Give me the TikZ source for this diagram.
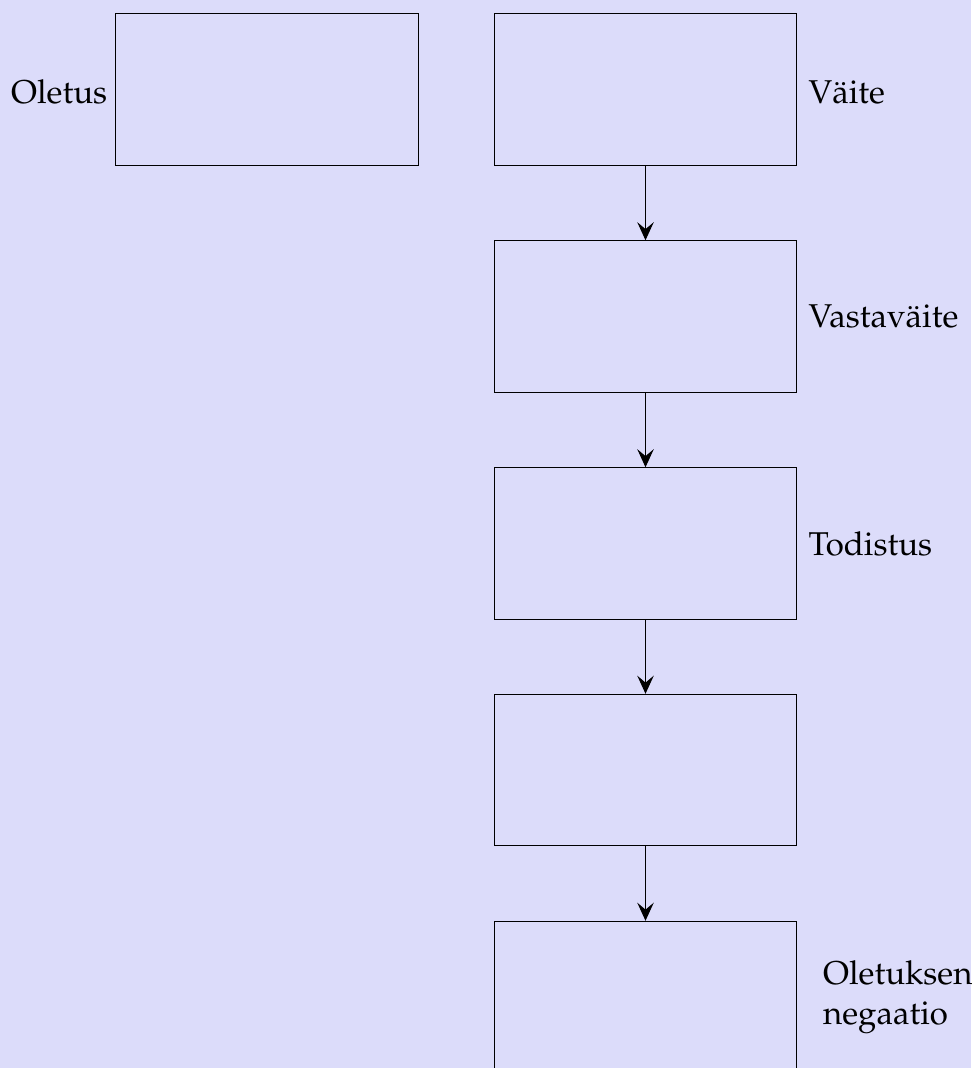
\documentclass[tikz,border=0pt]{standalone}
\usepackage[T1]{fontenc}
\usepackage{mathpazo}
\usetikzlibrary{arrows.meta}
\definecolor{bg}{RGB}{220,220,250}
\begin{document}
\begin{tikzpicture}[x=0.013210cm,y=-0.013210cm,
  stepbox/.style={draw=black, fill=bg, minimum width=4cm, minimum height=2cm, inner sep=0pt},
  lbl/.style={font=\fontsize{12.4}{14.9}\selectfont, inner sep=4pt},
  conn/.style={draw=black, -{Stealth[length=6.8pt,width=6.2pt,inset=2.6pt]}}]
\fill[bg] (0,0) rectangle (971,1068);
\useasboundingbox (0,0) rectangle (971,1068);
\node[stepbox] (o) at (267,89.5) {};
\node[stepbox] (b1) at (645.5,89.5) {};
\node[stepbox] (b2) at (645.5,316.5) {};
\node[stepbox] (b3) at (645.5,543.5) {};
\node[stepbox] (b4) at (645.5,770) {};
\node[stepbox] (b5) at (645.5,997) {};
\node[lbl, anchor=east, inner xsep=2.8pt, yshift=-1pt] (lo) at (o.west) {Oletus};
\node[lbl, anchor=west, yshift=-1pt] (l1) at (b1.east) {V\"aite};
\node[lbl, anchor=west] (l2) at (b2.east) {Vastav\"aite};
\node[lbl, anchor=west] (l3) at (b3.east) {Todistus};
\node[lbl, anchor=west, align=left, xshift=5.5pt] (l5) at (b5.east) {Oletuksen\\negaatio};
\draw[conn] (b1) -- (b2);
\draw[conn] (b2) -- (b3);
\draw[conn] (b3) -- (b4);
\draw[conn] (b4) -- (b5);
\end{tikzpicture}
\end{document}
